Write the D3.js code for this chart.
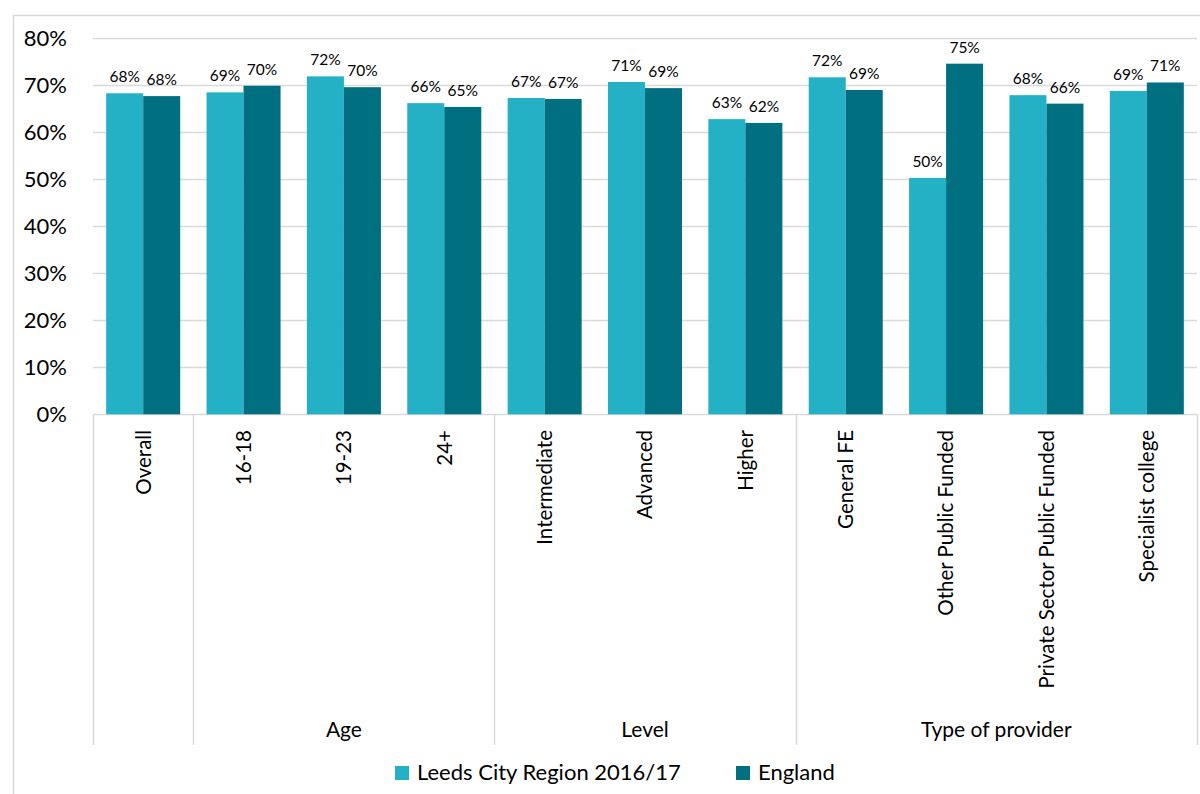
<!DOCTYPE html>
<html><head><meta charset="utf-8">
<script src="https://cdn.jsdelivr.net/npm/d3@7"></script>
<style>
body{margin:0;background:#fff;}
svg{display:block;font-family:Lato,"Open Sans",sans-serif;}
</style></head>
<body>
<svg id="chart" width="1200" height="794"></svg>
<script>
const categories = ["Overall","16-18","19-23","24+","Intermediate","Advanced","Higher","General FE","Other Public Funded","Private Sector Public Funded","Specialist college"];
const groupOf = ["","Age","Age","Age","Level","Level","Level","Type of provider","Type of provider","Type of provider","Type of provider"];
const seriesNames = ["Leeds City Region 2016/17","England"];
const leedsValues = [0.683,0.685,0.719,0.662,0.673,0.707,0.628,0.717,0.503,0.679,0.688];
const englandValues = [0.677,0.699,0.696,0.654,0.671,0.694,0.620,0.690,0.746,0.661,0.706];
const leedsLabels = ["68%","69%","72%","66%","67%","71%","63%","72%","50%","68%","69%"];
const englandLabels = ["68%","70%","70%","65%","67%","69%","62%","69%","75%","66%","71%"];
const yTicks = [0,0.1,0.2,0.3,0.4,0.5,0.6,0.7,0.8];
const colors = ["#24B0C5","#006F80"];

(function(){
const svg = d3.select("#chart");
const plotLeft = 93, plotRight = 1197, plotTop = 38.3, plotBase = 414.3, sepBottom = 745;
const grid = "#d9d9d9";

// outer border
svg.append("rect").attr("x",13.5).attr("y",15.5).attr("width",1250).attr("height",900)
  .attr("fill","none").attr("stroke",grid).attr("stroke-width",1.5);

const y = d3.scaleLinear().domain([0,0.8]).range([plotBase, plotTop]);
const x = d3.scaleBand().domain(categories).range([plotLeft,plotRight]).padding(0);
const xs = d3.scaleBand().domain(seriesNames).range([0,x.bandwidth()]).paddingInner(0).paddingOuter(0.356);

// gridlines
svg.append("g").selectAll("line").data(yTicks).join("line")
  .attr("x1",plotLeft).attr("x2",plotRight)
  .attr("y1",d=>Math.round(y(d))+0.5).attr("y2",d=>Math.round(y(d))+0.5)
  .attr("stroke",grid).attr("stroke-width",1.5);

// y tick labels
svg.append("g").selectAll("text").data(yTicks).join("text")
  .attr("x",67).attr("y",d=>y(d)).attr("dy","0.36em")
  .attr("text-anchor","end").attr("font-size",22).attr("fill","#000")
  .text(d=>d3.format(".0%")(d));

// bars
const seriesData = [leedsValues, englandValues];
const labelData = [leedsLabels, englandLabels];
seriesNames.forEach((s,si)=>{
  const g = svg.append("g");
  g.selectAll("rect").data(categories).join("rect")
    .attr("x",c=>x(c)+xs(s)).attr("width",xs.bandwidth())
    .attr("y",(c,i)=>y(seriesData[si][i]))
    .attr("height",(c,i)=>plotBase - y(seriesData[si][i]))
    .attr("fill",colors[si]);
  g.selectAll("text").data(categories).join("text")
    .attr("x",c=>x(c)+xs(s)+xs.bandwidth()/2)
    .attr("y",(c,i)=>y(seriesData[si][i]) - 11)
    .attr("text-anchor","middle").attr("font-size",15.5).attr("fill","#000")
    .text((c,i)=>labelData[si][i]);
});

// separators for category axis
const groups = [];
categories.forEach((c,i)=>{
  const gname = groupOf[i];
  if (groups.length && groups[groups.length-1].name===gname && gname!=="") groups[groups.length-1].end = c;
  else groups.push({name:gname,start:c,end:c});
});
const sepX = [plotLeft];
groups.forEach(g=>sepX.push(x(g.end)+x.bandwidth()));
svg.append("g").selectAll("line").data(sepX).join("line")
  .attr("x1",d=>Math.round(d)+0.5).attr("x2",d=>Math.round(d)+0.5)
  .attr("y1",plotBase).attr("y2",sepBottom)
  .attr("stroke",grid).attr("stroke-width",1.5);

// category labels (rotated)
svg.append("g").selectAll("text").data(categories).join("text")
  .attr("transform",c=>`translate(${x(c)+x.bandwidth()/2},430) rotate(-90)`)
  .attr("dy","0.36em").attr("text-anchor","end")
  .attr("font-size",20.5).attr("fill","#000")
  .text(c=>c);

// group labels
svg.append("g").selectAll("text").data(groups.filter(g=>g.name!=="")).join("text")
  .attr("x",g=>(x(g.start)+x(g.end)+x.bandwidth())/2)
  .attr("y",737).attr("text-anchor","middle")
  .attr("font-size",21).attr("fill","#000")
  .text(g=>g.name);

// legend
const legendX = [395, 736];
const lg = svg.append("g");
seriesNames.forEach((s,i)=>{
  lg.append("rect").attr("x",legendX[i]).attr("y",766).attr("width",14).attr("height",14).attr("fill",colors[i]);
  lg.append("text").attr("x",legendX[i]+22).attr("y",780).attr("font-size",22).attr("fill","#000").text(s);
});
})();
</script>
</body></html>
